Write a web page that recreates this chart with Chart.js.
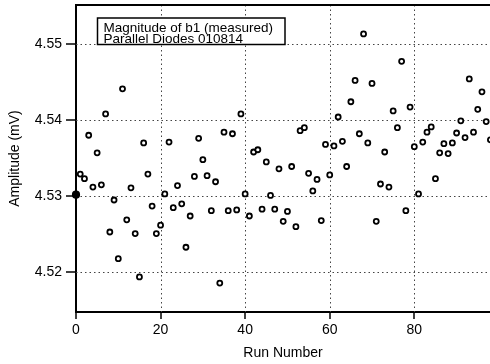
<!DOCTYPE html>
<html>
<head>
<meta charset="utf-8">
<script src="https://cdn.jsdelivr.net/npm/chart.js@4/dist/chart.umd.min.js"></script>
<style>
  html, body { margin: 0; padding: 0; background: #fff; overflow: hidden; }
  canvas { display: block; }
</style>
</head>
<body>
<canvas id="myChart" width="490" height="364"></canvas>
<script>
// amplitude (mV) for each run, run number = position in list
const amplitudes = [
  4.5302, 4.5329, 4.5323, 4.5380, 4.5312, 4.5357, 4.5315, 4.5408, 4.5253, 4.5295,
  4.5218, 4.5441, 4.5269, 4.5311, 4.5251, 4.5194, 4.5370, 4.5329, 4.5287, 4.5251,
  4.5262, 4.5303, 4.5371, 4.5285, 4.5314, 4.5290, 4.5233, 4.5274, 4.5326, 4.5376,
  4.5348, 4.5327, 4.5281, 4.5319, 4.5186, 4.5384, 4.5281, 4.5382, 4.5282, 4.5408,
  4.5303, 4.5274, 4.5358, 4.5361, 4.5283, 4.5345, 4.5301, 4.5283, 4.5336, 4.5267,
  4.5280, 4.5339, 4.5260, 4.5386, 4.5390, 4.5330, 4.5307, 4.5322, 4.5268, 4.5368,
  4.5328, 4.5366, 4.5404, 4.5372, 4.5339, 4.5424, 4.5452, 4.5382, 4.5513, 4.5370,
  4.5448, 4.5267, 4.5316, 4.5358, 4.5312, 4.5412, 4.5390, 4.5477, 4.5281, 4.5417,
  4.5365, 4.5303, 4.5371, 4.5384, 4.5391, 4.5323, 4.5357, 4.5369, 4.5356, 4.5370,
  4.5383, 4.5399, 4.5377, 4.5454, 4.5384, 4.5414, 4.5437, 4.5398, 4.5374
];
const xTicks = [0, 20, 40, 60, 80];
const yTicks = [4.52, 4.53, 4.54, 4.55];
const noteLines = ['Magnitude of b1 (measured)', 'Parallel Diodes 010814'];

const family = '"Liberation Sans", Arial, Helvetica, sans-serif';
Chart.defaults.font.family = family;
Chart.defaults.color = '#000';

const points = amplitudes.map((v, i) => ({ x: i, y: v }));

function seg(ctx, x1, y1, x2, y2) {
  ctx.beginPath();
  ctx.moveTo(x1, y1);
  ctx.lineTo(x2, y2);
  ctx.stroke();
}

// dotted grid and outward tick marks, placed through the scales
const axisMarks = {
  id: 'axisMarks',
  beforeDatasetsDraw(chart) {
    const { ctx, chartArea: a, scales: { x, y } } = chart;
    ctx.save();
    ctx.strokeStyle = '#444';
    ctx.lineWidth = 1;
    ctx.setLineDash([1.5, 3]);
    xTicks.forEach(v => {
      if (v === 0) return;
      const px = Math.round(x.getPixelForValue(v)) + 0.5;
      seg(ctx, px, a.top, px, a.bottom);
    });
    yTicks.forEach(v => {
      const py = Math.round(y.getPixelForValue(v)) + 0.5;
      seg(ctx, a.left, py, a.right, py);
    });
    ctx.setLineDash([]);
    ctx.strokeStyle = '#000';
    ctx.lineWidth = 1.5;
    xTicks.forEach(v => {
      const px = Math.round(x.getPixelForValue(v));
      seg(ctx, px, a.bottom, px, a.bottom + 7);
    });
    yTicks.forEach(v => {
      const py = Math.round(y.getPixelForValue(v));
      seg(ctx, a.left - 10, py, a.left, py);
    });
    ctx.restore();
  }
};

// top frame line and the note box in the upper left
const noteBox = {
  id: 'noteBox',
  afterDraw(chart) {
    const ctx = chart.ctx;
    const area = chart.chartArea;
    ctx.save();
    ctx.strokeStyle = '#000';
    ctx.lineWidth = 2;
    seg(ctx, area.left, area.top, area.right, area.top);

    const x = area.left + 21.5, y = area.top + 13, w = 187.5, h = 26.5;
    ctx.fillStyle = '#fff';
    ctx.fillRect(x, y, w, h);
    ctx.lineWidth = 1.5;
    ctx.strokeRect(x, y, w, h);
    ctx.fillStyle = '#000';
    ctx.font = '13.5px ' + family;
    ctx.textBaseline = 'alphabetic';
    noteLines.forEach((t, i) => ctx.fillText(t, x + 6, y + 13.5 + i * 11.3));
    ctx.restore();
  }
};

const gridOpts = (tickLen) => ({
  drawOnChartArea: false,
  drawTicks: true,
  tickLength: tickLen,
  tickColor: 'rgba(0,0,0,0)'
});

new Chart(document.getElementById('myChart'), {
  type: 'scatter',
  data: {
    datasets: [{
      data: points,
      showLine: false,
      clip: false,
      pointStyle: 'circle',
      pointRadius: (c) => c.dataIndex === 0 ? 3.2 : 2.5,
      pointHoverRadius: 0,
      pointBorderWidth: 1.8,
      pointBorderColor: '#000',
      pointBackgroundColor: (c) => c.dataIndex === 0 ? '#000' : '#fff'
    }]
  },
  options: {
    responsive: false,
    animation: false,
    layout: { autoPadding: false, padding: { top: 5, right: 0, bottom: 0, left: 0 } },
    plugins: {
      legend: { display: false },
      tooltip: { enabled: false }
    },
    scales: {
      x: {
        type: 'linear',
        min: 0,
        max: 97.9,
        afterBuildTicks: (s) => { s.ticks = xTicks.map(v => ({ value: v })); },
        afterFit: (s) => { s.height = 52; s.paddingLeft = 0; s.paddingRight = 0; },
        border: { display: true, color: '#000', width: 2 },
        grid: gridOpts(7),
        ticks: { color: '#000', font: { size: 14 }, padding: 3, maxRotation: 0 },
        title: {
          display: true,
          text: 'Run Number',
          color: '#000',
          font: { size: 14 },
          padding: { top: 0, bottom: 2.5 }
        }
      },
      y: {
        min: 4.5148,
        max: 4.5551,
        afterBuildTicks: (s) => { s.ticks = yTicks.map(v => ({ value: v })); },
        afterFit: (s) => { s.width = 76; s.paddingTop = 0; s.paddingBottom = 0; },
        border: { display: true, color: '#000', width: 2 },
        grid: gridOpts(10),
        ticks: {
          color: '#000',
          font: { size: 14 },
          padding: 4,
          callback: (v) => Number(v).toFixed(2)
        },
        title: {
          display: true,
          text: 'Amplitude (mV)',
          color: '#000',
          font: { size: 14 },
          padding: { top: 6.5, bottom: 0 }
        }
      }
    }
  },
  plugins: [axisMarks, noteBox]
});
</script>
</body>
</html>
